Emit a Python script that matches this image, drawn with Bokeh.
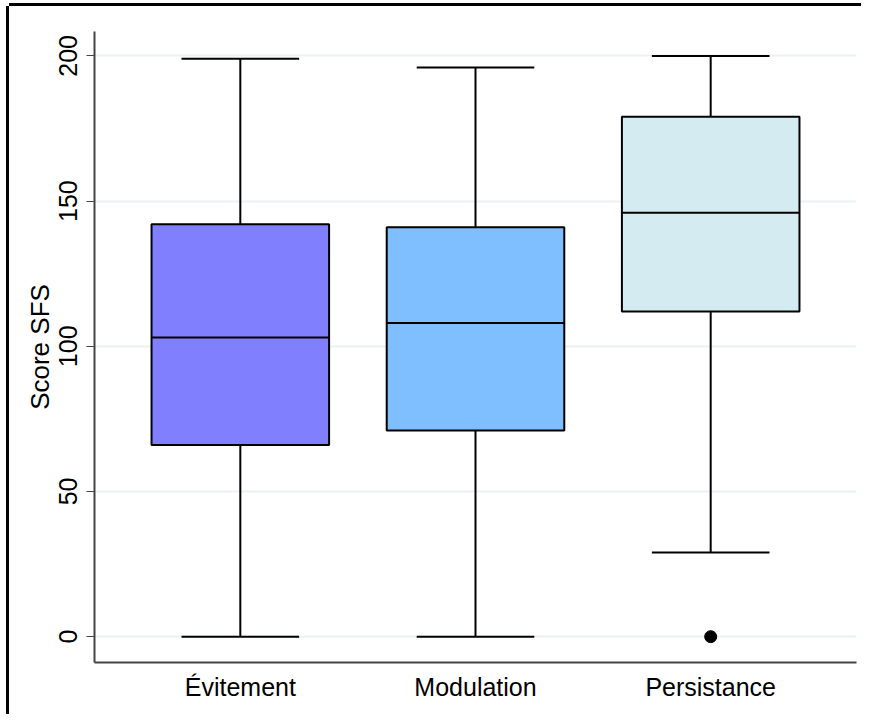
from bokeh.plotting import figure
from bokeh.models import FixedTicker, Range1d, ColumnDataSource
from bokeh.embed import file_html
from bokeh.resources import INLINE

categories = ["Évitement", "Modulation", "Persistance"]
positions = [1, 2, 3]
mins = [0, 0, 29]
q1s = [66, 71, 112]
medians = [103, 108, 146]
q3s = [142, 141, 179]
maxs = [199, 196, 200]
colors = ["#8080FF", "#80BFFF", "#D5EBF2"]
outlier_pos = [3]
outlier_vals = [0]
y_ticks = [0, 50, 100, 150, 200]

FONT = "Liberation Sans"

p = figure(width=852, height=708, output_backend="svg", toolbar_location=None,
           x_range=Range1d(0.38, 3.62), y_range=Range1d(-8.9, 208.4),
           min_border_left=85, min_border_top=25, min_border_right=5, min_border_bottom=52)
p.styles = {"box-shadow": "-3px 0px 0px 0px black, 0px -3px 0px 0px black",
            "background-color": "white",
            "margin-top": "6px", "margin-left": "9px"}
p.outline_line_color = None
p.background_fill_color = "white"
p.border_fill_color = "white"

p.xgrid.visible = False
p.ygrid.ticker = FixedTicker(ticks=y_ticks)
p.ygrid.grid_line_color = "#EAF2F3"
p.ygrid.grid_line_width = 2

p.yaxis.ticker = FixedTicker(ticks=y_ticks)
p.yaxis.axis_label = "Score SFS"
p.yaxis.axis_label_text_font = FONT
p.yaxis.axis_label_text_font_style = "normal"
p.yaxis.axis_label_text_font_size = "26px"
p.yaxis.axis_label_text_color = "black"
p.yaxis.axis_label_standoff = 2
p.yaxis.major_label_text_font = FONT
p.yaxis.major_label_text_font_size = "25px"
p.yaxis.major_label_orientation = "vertical"
p.yaxis.major_label_standoff = 9
p.yaxis.major_tick_out = 8
p.yaxis.major_tick_in = 0
p.yaxis.minor_tick_line_color = None
p.yaxis.axis_line_color = "#444444"
p.yaxis.major_tick_line_color = "#444444"
p.yaxis.axis_line_width = 2
p.yaxis.major_label_text_color = "black"

p.xaxis.ticker = FixedTicker(ticks=positions)
p.xaxis.major_label_overrides = {pos: c for pos, c in zip(positions, categories)}
p.xaxis.major_label_text_font = FONT
p.xaxis.major_label_text_font_size = "25px"
p.xaxis.major_label_standoff = 4
p.xaxis.major_tick_line_color = None
p.xaxis.minor_tick_line_color = None
p.xaxis.axis_line_color = "#444444"
p.xaxis.axis_line_width = 2
p.xaxis.major_label_text_color = "black"

box_w = 0.755
cap_w = 0.5
src = ColumnDataSource(dict(
    x=positions, lo=mins, q1=q1s, med=medians, q3=q3s, hi=maxs, color=colors,
    left=[x - box_w / 2 for x in positions], right=[x + box_w / 2 for x in positions],
    cl=[x - cap_w / 2 for x in positions], cr=[x + cap_w / 2 for x in positions],
))

# whiskers
p.segment(x0="x", y0="q3", x1="x", y1="hi", source=src, line_color="black", line_width=2)
p.segment(x0="x", y0="lo", x1="x", y1="q1", source=src, line_color="black", line_width=2)
p.segment(x0="cl", y0="hi", x1="cr", y1="hi", source=src, line_color="black", line_width=2)
p.segment(x0="cl", y0="lo", x1="cr", y1="lo", source=src, line_color="black", line_width=2)
# boxes
p.quad(left="left", right="right", bottom="q1", top="q3", source=src,
       fill_color="color", line_color="black", line_width=2)
p.segment(x0="left", y0="med", x1="right", y1="med", source=src, line_color="black", line_width=2)
# outliers
p.scatter(x=outlier_pos, y=outlier_vals, size=12, color="black", marker="circle")

open("out.html", "w").write(file_html(p, INLINE))
